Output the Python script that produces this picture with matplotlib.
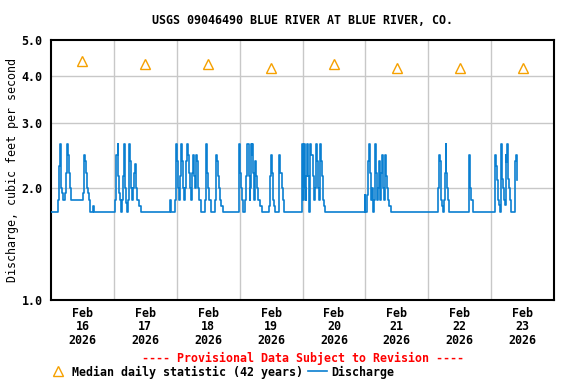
import datetime as dt
import matplotlib
matplotlib.use("Agg")
import matplotlib.pyplot as plt
from matplotlib.lines import Line2D
from matplotlib.ticker import FixedLocator, NullLocator

# discharge change points for each day: (hour of day, cfs)
feb16 = [(0, 1.72), (2.7, 1.86), (3.2, 2.29), (3.6, 2.63), (3.9, 2.0), (4.3, 1.94), (4.7, 1.86),
         (5.2, 1.94), (5.7, 2.2), (6.1, 2.63), (6.5, 2.45), (6.9, 2.2), (7.2, 2.0), (7.7, 1.86),
         (12.3, 1.94), (12.6, 2.45), (13.0, 2.36), (13.3, 2.2), (13.7, 2.0), (14.1, 1.94),
         (14.6, 1.86), (15.0, 1.72), (16.0, 1.79), (16.4, 1.72)]
feb17 = [(0, 1.72), (0.5, 1.86), (1.0, 2.45), (1.4, 2.63), (1.65, 2.15), (1.9, 1.94), (2.3, 1.86),
         (2.7, 1.72), (3.0, 1.86), (3.4, 2.15), (3.7, 2.45), (3.9, 2.63), (4.3, 2.0), (4.7, 1.82),
         (5.1, 1.72), (5.3, 1.86), (5.6, 2.15), (5.8, 2.63), (6.2, 2.36), (6.5, 2.0), (6.9, 1.86),
         (7.2, 2.0), (7.6, 2.2), (8.1, 2.32), (8.5, 2.0), (8.9, 1.86), (9.7, 1.79), (10.4, 1.72),
         (21.3, 1.86), (21.8, 1.72), (23.4, 1.86), (23.6, 2.63)]
feb18 = [(0, 2.45), (0.25, 2.36), (0.6, 2.0), (1.0, 1.86), (1.4, 2.15), (1.65, 2.63), (2.0, 2.36),
         (2.4, 2.0), (2.8, 1.86), (3.2, 2.0), (3.6, 2.36), (3.9, 2.63), (4.3, 2.45), (4.6, 2.2),
         (5.0, 2.0), (5.3, 1.86), (5.7, 2.2), (6.1, 2.45), (6.5, 2.15), (6.9, 2.0), (7.2, 2.45),
         (7.6, 2.36), (8.0, 2.0), (8.4, 1.86), (9.4, 1.72), (10.7, 1.86), (11.0, 2.63),
         (11.4, 2.2), (11.8, 2.0), (12.2, 1.86), (13.0, 1.72), (14.7, 1.86), (15.1, 2.45),
         (15.5, 2.36), (15.7, 2.15), (16.1, 2.0), (16.5, 1.86), (17.0, 1.79), (17.7, 1.72),
         (23.6, 2.63)]
feb19 = [(0, 2.36), (0.1, 2.2), (0.5, 2.0), (0.9, 1.86), (1.3, 1.72), (2.0, 1.86), (2.4, 2.15),
         (2.7, 2.45), (3.0, 2.63), (3.4, 2.15), (3.8, 1.86), (4.1, 2.0), (4.3, 2.63), (4.6, 2.45),
         (4.8, 2.63), (5.1, 2.2), (5.3, 1.86), (5.7, 2.0), (6.0, 2.36), (6.2, 2.15), (6.6, 2.0),
         (7.0, 1.86), (7.9, 1.79), (8.5, 1.72), (11.2, 1.79), (11.6, 2.15), (11.8, 2.45),
         (12.2, 2.2), (12.6, 1.86), (13.0, 1.79), (13.6, 1.72), (14.9, 1.86), (15.2, 2.45),
         (15.6, 2.2), (16.0, 2.0), (16.4, 1.86), (16.8, 1.79), (17.1, 1.72), (23.7, 2.63)]
feb20 = [(0, 2.0), (0.1, 1.86), (0.4, 2.63), (0.8, 2.36), (1.0, 2.0), (1.3, 1.86), (1.5, 2.15),
         (1.8, 2.63), (2.0, 2.15), (2.3, 1.86), (2.5, 1.72), (2.8, 2.15), (3.0, 2.63), (3.4, 2.45),
         (3.9, 2.15), (4.3, 1.86), (4.6, 2.0), (5.0, 2.45), (5.2, 2.63), (5.6, 2.36), (6.0, 2.0),
         (6.2, 1.86), (6.5, 2.15), (6.7, 2.63), (7.1, 2.36), (7.5, 2.15), (7.7, 1.86), (8.1, 1.79),
         (8.5, 1.72), (23.8, 1.92)]
feb21 = [(0, 1.72), (0.8, 1.92), (1.1, 2.36), (1.5, 2.63), (1.8, 2.2), (2.2, 1.86), (2.5, 2.0),
         (2.9, 1.72), (3.3, 1.86), (3.7, 2.63), (4.1, 2.2), (4.4, 1.86), (4.8, 2.0), (5.2, 2.36),
         (5.6, 1.86), (6.0, 2.2), (6.4, 2.45), (6.7, 2.0), (7.1, 1.86), (7.5, 2.45), (7.9, 2.15),
         (8.3, 2.0), (8.6, 1.86), (9.1, 1.79), (9.7, 1.72)]
feb22 = [(0, 1.72), (3.8, 2.0), (4.2, 2.45), (4.4, 2.36), (4.7, 2.2), (5.0, 1.86), (5.3, 1.79),
         (5.7, 1.72), (6.1, 1.86), (6.4, 2.2), (6.6, 2.63), (6.9, 2.2), (7.1, 2.0), (7.5, 1.86),
         (7.9, 1.79), (8.1, 1.72), (15.4, 2.15), (15.6, 2.45), (15.9, 2.2), (16.1, 2.0),
         (16.5, 1.86), (16.9, 1.72)]
feb23 = [(0, 1.72), (1.3, 1.86), (1.65, 2.45), (1.9, 2.29), (2.2, 2.1), (2.5, 2.0), (2.8, 1.86),
         (3.0, 1.8), (3.3, 1.72), (3.6, 1.86), (3.8, 2.63), (4.1, 2.45), (4.3, 2.12), (4.6, 2.0),
         (4.8, 1.86), (5.2, 1.8), (5.6, 2.45), (5.8, 2.35), (6.1, 2.63), (6.4, 2.29), (6.6, 2.12),
         (6.9, 2.0), (7.1, 1.86), (7.4, 1.8), (7.6, 1.72), (9.3, 2.36), (9.5, 2.45), (9.8, 2.29),
         (10.0, 2.1)]
days = [feb16, feb17, feb18, feb19, feb20, feb21, feb22, feb23]

median_vals = [4.4, 4.3, 4.3, 4.2, 4.3, 4.2, 4.2, 4.2]
y_ticks = [1.0, 2.0, 3.0, 4.0, 5.0]

start = dt.datetime(2026, 2, 16)
times, flows = [], []
for i, pts in enumerate(days):
    for h, v in pts:
        times.append(start + dt.timedelta(days=i, hours=h))
        flows.append(v)

median_times = [start + dt.timedelta(days=i, hours=12) for i in range(8)]
midnights = [start + dt.timedelta(days=i) for i in range(1, 8)]

plt.rcParams['font.family'] = "DejaVu Sans Mono"
plt.rcParams['font.weight'] = 'bold'
plt.rcParams['font.size'] = 8.4

fig = plt.figure(figsize=(5.76, 3.84), dpi=100)
ax = fig.add_axes([51 / 576, 1 - 300 / 384, 503 / 576, 260 / 384])

ax.plot(times, flows, drawstyle='steps-post', color='#0a7fd1', lw=1.2, zorder=3)
ax.plot(median_times, median_vals, linestyle='none', marker='^', ms=7,
        mfc='none', mec='#f5a000', mew=1.0, zorder=4)

ax.set_yscale('log')
ax.set_ylim(1.0, 5.0)
ax.yaxis.set_major_locator(FixedLocator(y_ticks))
ax.yaxis.set_minor_locator(NullLocator())
ax.set_yticklabels([f"{t:.1f}" for t in y_ticks])
for t in y_ticks[1:-1]:
    ax.axhline(t, color='#c8c8c8', lw=1, zorder=1)

ax.set_xlim(start, start + dt.timedelta(days=8))
ax.set_xticks(median_times)
ax.set_xticklabels([f"Feb\n{d.day}\n2026" for d in median_times], linespacing=1.05)
for m in midnights:
    ax.axvline(m, color='#c8c8c8', lw=1, zorder=1)

ax.tick_params(length=0, pad=6)
ax.tick_params(axis='x', pad=5)
for s in ax.spines.values():
    s.set_linewidth(1.5)

ax.set_ylabel("Discharge, cubic feet per second", labelpad=2)
fig.text(0.5 * (51 + 554) / 576, 1 - 20 / 384, "USGS 09046490 BLUE RIVER AT BLUE RIVER, CO.",
         ha='center', va='center')
fig.text(0.5 * (51 + 554) / 576, 1 - 358 / 384, "---- Provisional Data Subject to Revision ----",
         ha='center', va='center', color='red')

handles = [Line2D([], [], linestyle='none', marker='^', ms=7, mfc='none', mec='#f5a000'),
           Line2D([], [], color='#0a7fd1', lw=1.2)]
fig.legend(handles, ["Median daily statistic (42 years)", "Discharge"], ncol=2,
           loc='center left', bbox_to_anchor=(43 / 576, 1 - 372 / 384), frameon=False,
           handlelength=1.6, handletextpad=0.4, columnspacing=0.4, borderpad=0)

fig.savefig("out.png", dpi=100)
